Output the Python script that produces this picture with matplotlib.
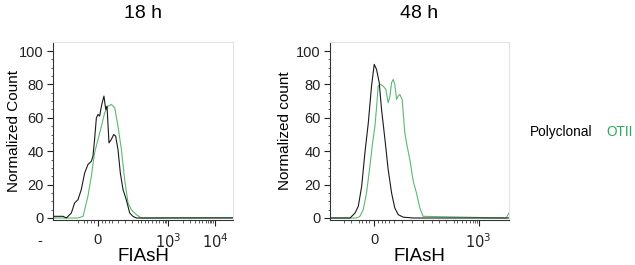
import matplotlib
matplotlib.use("Agg")
import matplotlib.pyplot as plt
import numpy as np

plt.rcParams['font.family'] = ['Liberation Sans', 'DejaVu Sans']

# ---- data (x in display units 0-100 across each axis, y = normalized count) ----
# 18 h panel
poly18_x = [0, 5.6, 7.4, 10.2, 12.0, 13.9, 15.7, 17.6, 19.4, 21.3, 22.2, 23.1, 24.1, 25.0, 25.9, 26.9,
            27.8, 28.3, 29.3, 30.0, 31.1, 32.4, 33.7, 34.8, 36.1, 37.4, 38.9, 40.7, 42.6, 44.4, 46.3, 100]
poly18_y = [1, 1, 0, 3, 9, 11, 17, 27, 32, 34, 37, 47, 60, 62, 61, 67,
            71, 73, 65, 67, 45, 47, 50, 49, 41, 27, 17, 11, 3, 1, 0, 0]
otii18_x = [0, 13.9, 16.7, 19.4, 21.3, 23.1, 25.0, 26.9, 28.7, 30.6, 32.4, 34.3, 36.1, 38.0, 39.8,
            41.7, 43.5, 46.3, 49.1, 100]
otii18_y = [0, 0, 1, 13, 25, 39, 47, 55, 63, 67, 68, 66, 55, 41, 23, 9, 5, 2, 0, 0.3]

# 48 h panel
poly48_x = [0, 11.2, 14.0, 15.8, 17.7, 19.5, 21.4, 23.2, 24.7, 26.0, 27.5, 28.8, 30.7, 32.5, 34.4,
            36.2, 38.1, 40.9, 46.5, 100]
poly48_y = [0, 0, 3, 7, 19, 39, 57, 79, 92, 89, 81, 65, 47, 29, 15, 6, 2, 0.5, 0, 0]
otii48_x = [0, 14.9, 16.7, 18.6, 20.4, 22.3, 23.8, 25.1, 26.0, 26.9, 28.3, 29.7, 31.2, 32.5, 33.5,
            34.4, 35.3, 36.2, 37.2, 38.1, 39.0, 40.3, 41.8, 43.1, 44.6, 46.5, 48.3, 50.2, 52.0, 98.5, 99.4, 100]
otii48_y = [0, 0, 1, 5, 15, 31, 45, 55, 66, 79, 80, 79, 77, 69, 73, 81, 83, 80, 71, 73, 74, 71,
            51, 43, 35, 22, 15, 6, 1, 0, 2, 3]

# axis ticks
x18_major = [25, 64, 90]
x18_labels = ['0', '$10^3$', '$10^4$']
x18_minor = [14, 17, 19, 21, 23, 27, 29, 31, 33, 36, 40, 44, 47, 49, 51, 53, 55, 57, 59, 61, 62, 63,
             72, 76, 79, 81, 83, 85, 86, 87, 88, 89]
x48_major = [24.7, 83]
x48_labels = ['0', '$10^3$']
x48_minor = [8, 12, 16, 18, 20, 22, 27, 29, 31, 33, 36, 40, 46, 52, 57, 61, 65, 69, 71, 74, 76, 78,
             80, 81, 82]
y_major = [0, 20, 40, 60, 80, 100]

titles = ['18 h', '48 h']
ylabels = ['Normalized Count', 'Normalized count']
xlabel = 'FIAsH'
legend_labels = ['Polyclonal', 'OTII']

BLACK = '#1a1a1a'
GREEN = '#5cb873'

fig = plt.figure(figsize=(6.35, 2.65), dpi=100)
ax1 = fig.add_axes([53/635, 1 - 220/265, 180/635, 178/265])
ax2 = fig.add_axes([330/635, 1 - 220/265, 179/635, 178/265])

panels = [
    (ax1, poly18_x, poly18_y, otii18_x, otii18_y, x18_major, x18_labels, x18_minor, -0.18),
    (ax2, poly48_x, poly48_y, otii48_x, otii48_y, x48_major, x48_labels, x48_minor, -0.21),
]

for i, (ax, px, py, ox, oy, xmaj, xlab, xmin, ylx) in enumerate(panels):
    ax.plot(ox, oy, color=GREEN, lw=0.8)
    ax.plot(px, py, color=BLACK, lw=0.8)
    ax.set_xlim(0, 100)
    ax.set_ylim(-1.2, 105.4)
    ax.set_yticks(y_major)
    ax.set_yticks(np.arange(0, 101, 5), minor=True)
    ax.set_xticks(xmaj)
    ax.set_xticklabels(xlab)
    ax.set_xticks(xmin, minor=True)
    ax.tick_params(axis='y', which='major', length=4, width=0.8, labelsize=10.5, pad=2.5, colors='#222222')
    ax.tick_params(axis='y', which='minor', length=1.5, width=0.6, color='#444444')
    ax.tick_params(axis='x', which='major', length=4, width=0.8, labelsize=10.5, pad=5, colors='#222222')
    ax.tick_params(axis='x', which='minor', length=2.5, width=0.6, color='#444444')
    for s in ['top', 'right']:
        ax.spines[s].set_color('#e3e3e3')
        ax.spines[s].set_linewidth(0.8)
    ax.spines['left'].set_color('#333333')
    ax.spines['bottom'].set_color('#333333')
    ax.spines['left'].set_linewidth(0.8)
    ax.spines['bottom'].set_linewidth(0.8)
    ax.set_ylabel(ylabels[i], fontsize=11)
    ax.yaxis.set_label_coords(ylx, 0.5)
    ax.set_title(titles[i], fontsize=14, pad=17)
    ax.set_xlabel(xlabel, fontsize=13.5, labelpad=-2)

# stray "-" label left of 18 h axis
ax1.text(-7.4, -9.5, '-', fontsize=10.5, ha='center', va='top', clip_on=False, color='#222222')

# legend texts
fig.text(530/635, 1 - 132/265, legend_labels[0], fontsize=9.8, color='black', va='center', ha='left')
fig.text(606/635, 1 - 132/265, legend_labels[1], fontsize=9.8, color='#2aa85a', va='center', ha='left')

fig.savefig('out.png', dpi=100)
